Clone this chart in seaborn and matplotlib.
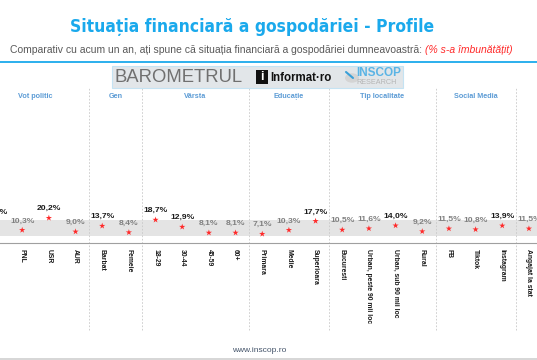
import matplotlib
matplotlib.use("Agg")
import matplotlib.pyplot as plt
import matplotlib.transforms as mtransforms
from matplotlib.patches import Rectangle, Circle
import seaborn as sns
import pandas as pd

# ---- data ----
categories = ["PSD", "PNL", "USR", "AUR", "Barbat", "Femeie", "18-29", "30-44", "45-59", "60+",
              "Primara", "Medie", "Superioara", "Bucuresti", "Urban, peste 90 mii loc",
              "Urban, sub 90 mii loc", "Rural", "FB", "Tiktok", "Instagram", "Angajat la stat"]
values = [17.3, 10.3, 20.2, 9.0, 13.7, 8.4, 18.7, 12.9, 8.1, 8.1,
          7.1, 10.3, 17.7, 10.5, 11.6, 14.0, 9.2, 11.5, 10.8, 13.9, 11.5]
highlight = [True, False, True, False, True, False, True, True, False, False,
             False, False, True, False, False, True, False, False, False, True, False]
groups = ["Vot politic", "Gen", "Vârsta", "Educație", "Tip localitate", "Social Media", "Statut ocupațional"]
group_spans = [(0, 3), (4, 5), (6, 9), (10, 12), (13, 16), (17, 19), (20, 23)]
band = (5.45, 18.56)

W, H = 537, 360
sns.set_theme(style="white")
plt.rcParams['font.family'] = ['Liberation Sans', 'DejaVu Sans']

fig = plt.figure(figsize=(W / 100, H / 100), dpi=100)

def fy(py):
    return 1 - py / H

def fx(px):
    return px / W

# axes strip
ax_top, ax_bot = 88, 243
ax = fig.add_axes([0, fy(ax_bot), 1, (ax_bot - ax_top) / H])
ax.set_facecolor("none")

def px_to_idx(p):
    return (p - 22.2) / 26.67 + 1

def py_to_val(py):
    return 20.2 - (py - 218) / 1.22

ax.axhspan(band[0], band[1], color="#e4e4e4", zorder=0, lw=0)

df = pd.DataFrame({"x": range(len(categories)), "v": values, "cat": categories})
sns.scatterplot(data=df, x="x", y="v", marker="*", s=22, color="#ff2a2a",
                edgecolor="none", linewidth=0, ax=ax, zorder=3, legend=False, clip_on=False)

for i, (v, hl) in enumerate(zip(values, highlight)):
    lbl = f"{v:.1f}%".replace(".", ",")
    ax.annotate(lbl, (i, v), xytext=(0, 6.6), textcoords="offset points",
                ha="center", va="center", fontsize=6.1, fontweight="bold",
                color="#1a1a1a" if hl else "#808080", annotation_clip=False)

# spines & ticks
for s in ["top", "right", "left"]:
    ax.spines[s].set_visible(False)
ax.spines["bottom"].set_color("#a0a0a0")
ax.spines["bottom"].set_linewidth(0.8)
ax.set_yticks([])
ax.set_xticks(range(len(categories)))
ax.set_xticklabels(categories, rotation=270, ha="center", va="top",
                   fontsize=4.9, fontweight="bold", color="#1a1a1a")
ax.tick_params(axis="x", which="major", length=0, pad=4)
ax.set_xticks([i + 0.5 for i in range(-1, len(categories))], minor=True)
ax.tick_params(axis="x", which="minor", length=2.5, width=0.6, color="#a0a0a0", direction="out")
ax.set_xlabel("")
ax.set_ylabel("")
ax.set_xlim(px_to_idx(0), px_to_idx(W))
ax.set_ylim(py_to_val(ax_bot), py_to_val(ax_top))

# separators
ymin = (ax_bot - 330) / (ax_bot - ax_top)
for a, b in group_spans[:-1]:
    ax.axvline(b + 0.5, ymin=ymin, ymax=1, clip_on=False, color="#c8c8c8",
               lw=0.6, ls=(0, (2, 2)), zorder=1)

trans = mtransforms.blended_transform_factory(ax.transData, ax.transAxes)
gy = (ax_bot - 97) / (ax_bot - ax_top)
for g, (a, b) in zip(groups, group_spans):
    ax.text((a + b) / 2, gy, g, transform=trans, ha="center", va="center",
            fontsize=5.2, fontweight="bold", color="#5b9bd5", clip_on=False)

# title & subtitle
fig.text(fx(252), fy(27), "Situația financiară a gospodăriei - Profile", ha="center", va="center",
         fontsize=12.5, fontweight="bold", color="#1aa9ec", family=["DejaVu Sans"],
         fontstretch="condensed")
sub1 = "Comparativ cu acum un an, ați spune că situația financiară a gospodăriei dumneavoastră: "
t1 = fig.text(fx(10), fy(50), sub1, ha="left", va="center", fontsize=7.45, color="#595959")
fig.canvas.draw()
bb = t1.get_window_extent()
fig.text(bb.x1 / W, fy(50), "(% s-a îmbunătățit)", ha="left", va="center", fontsize=7.45,
         color="#ff2a2a", style="italic")
fig.add_artist(plt.Line2D([0, 1], [fy(62), fy(62)], color="#1aa9ec", lw=1.3))

# logo box
fig.add_artist(Rectangle((fx(112), fy(88)), (403 - 112) / W, 22 / H, facecolor="#e2e6e9",
                         edgecolor="#c5e3f3", lw=0.8))
fig.text(fx(114), fy(77), "BAROMETRUL", ha="left", va="center", fontsize=13.3,
         color="#707070")
fig.add_artist(Rectangle((fx(256), fy(84)), 12 / W, 14 / H, facecolor="#111111", edgecolor="none"))
fig.text(fx(262), fy(77), "i", ha="center", va="center", fontsize=9, fontweight="bold", color="white")
fig.text(fx(270), fy(78), "Informat·ro", ha="left", va="center", fontsize=8.3,
         fontweight="bold", color="#111111")
fig.add_artist(Circle((fx(352), fy(78)), 7 / W, facecolor="#d4d4d4", edgecolor="none",
                      transform=fig.transFigure))
fig.add_artist(plt.Line2D([fx(346), fx(353)], [fy(72), fy(78)], color="#3aa0d8", lw=1.5))
fig.text(fx(356), fy(73), "INSCOP", ha="left", va="center", fontsize=8.5,
         fontweight="bold", color="#5ab4e5")
fig.text(fx(356), fy(83), "RESEARCH", ha="left", va="center", fontsize=5.2, color="#b5b5b5")

# footer
fig.text(fx(259), fy(351), "www.inscop.ro", ha="center", va="center", fontsize=6,
         color="#44546a")
fig.add_artist(plt.Line2D([0, 1], [fy(359), fy(359)], color="#d0d0d0", lw=1.2))

fig.savefig("out.png", dpi=100)
